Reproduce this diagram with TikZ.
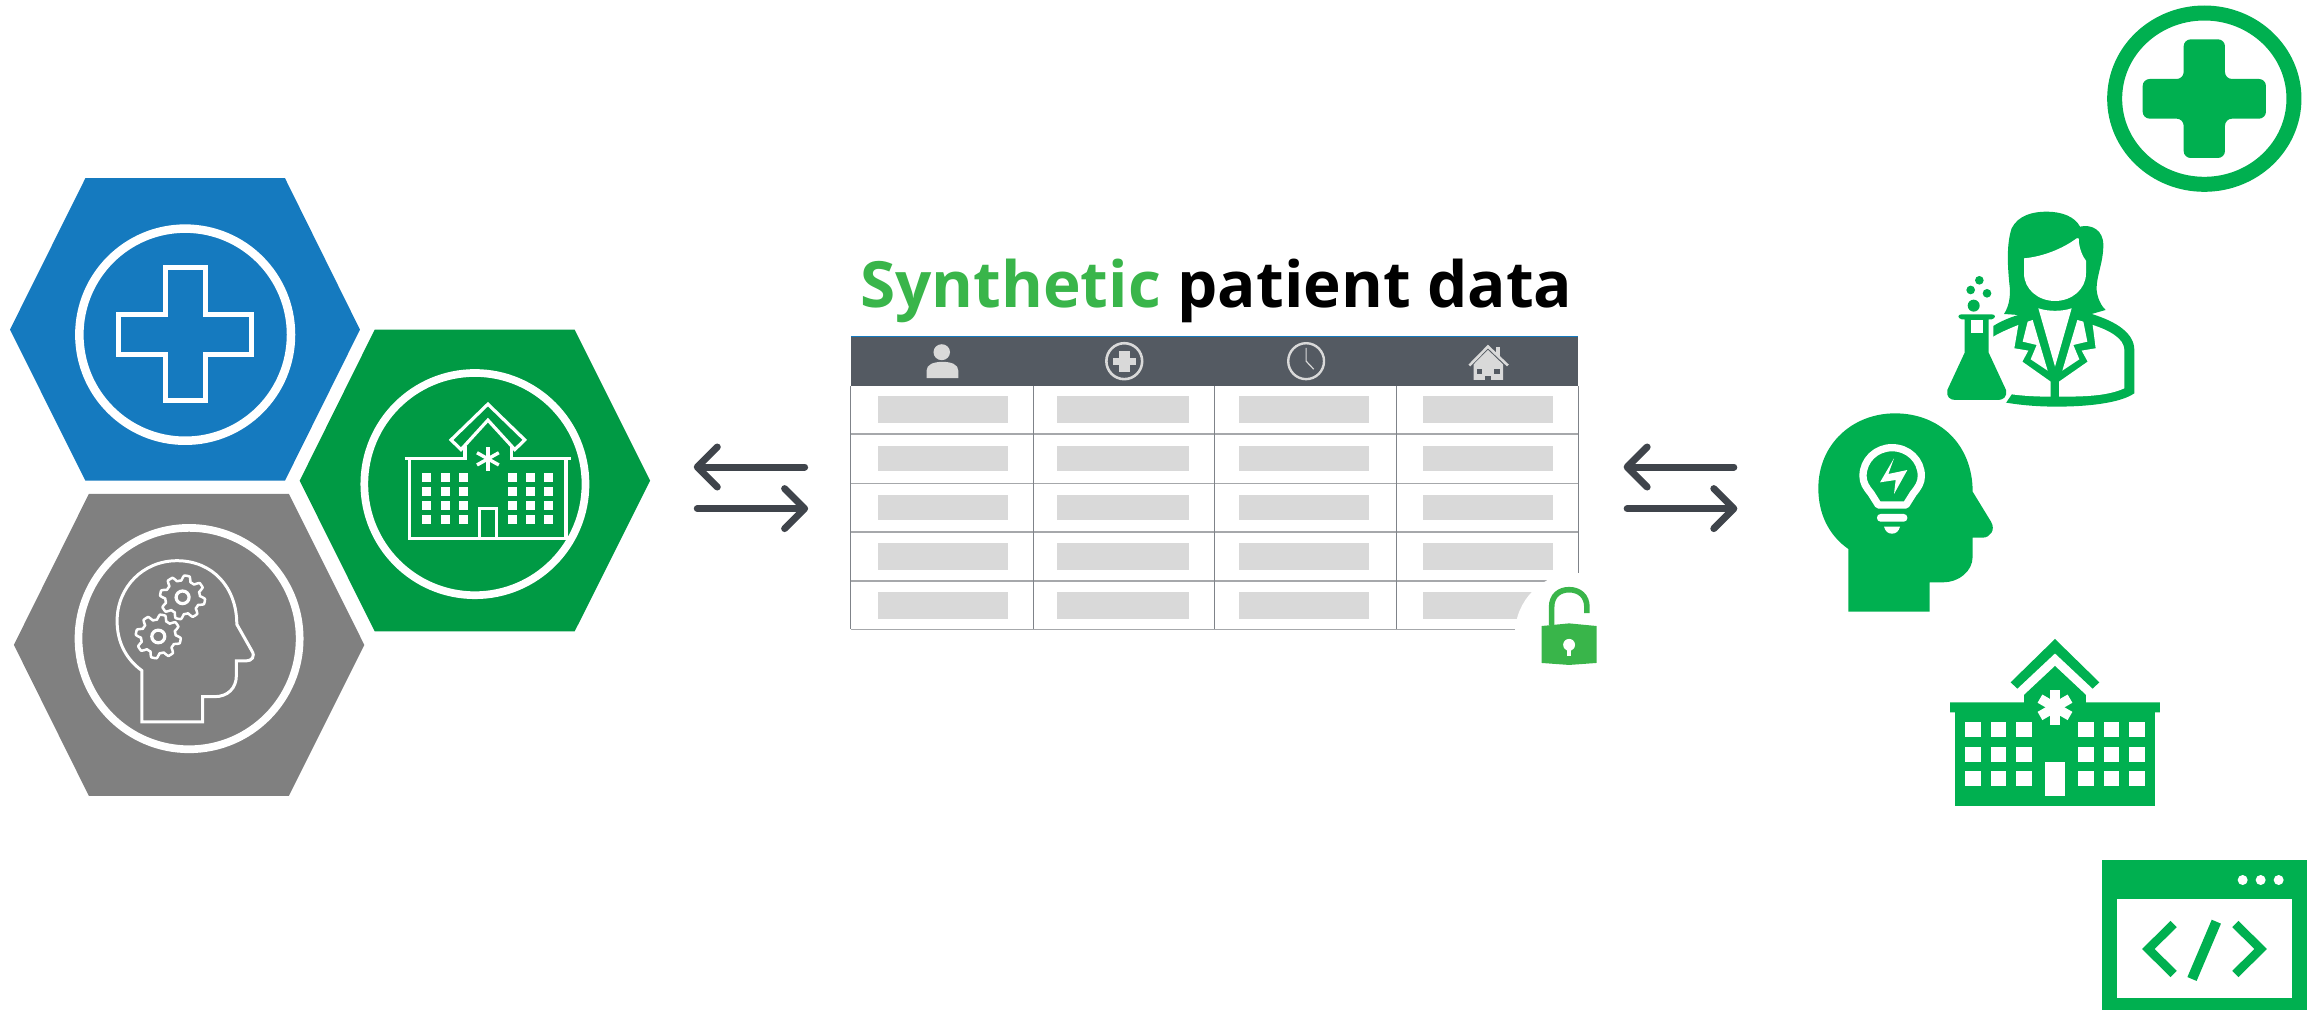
\documentclass[tikz,border=0pt]{standalone}
\usepackage{fontspec}
\setmainfont{Open Sans}
\usetikzlibrary{arrows.meta}
\definecolor{hexblue}{HTML}{157ABF}
\definecolor{hexgreen}{HTML}{009A44}
\definecolor{hexgray}{HTML}{808080}
\definecolor{iconGreen}{HTML}{00B050}
\definecolor{titleGreen}{HTML}{39B54A}
\definecolor{headDark}{HTML}{545A62}
\definecolor{cellGray}{HTML}{D9D9D9}
\definecolor{rowLine}{HTML}{A6A8AB}
\definecolor{colLine}{HTML}{7F8389}
\definecolor{arrowDark}{HTML}{3F444B}
\tikzset{
  leftzone/.style={x=.4337pt,y=-.4209pt,shift={(0pt,-160pt)}},
  tablezone/.style={x=.6888pt,y=-.3328pt,shift={(680pt,-240.7pt)}},
  lockzone/.style={x=.33pt,y=-.33pt,shift={(1480pt,-560pt)}},
  sciencezone/.style={x=.3333pt,y=-.3333pt,shift={(1900pt,0pt)}},
  headzone/.style={x=.3333pt,y=-.3333pt,shift={(1780pt,-400pt)}},
  codezone/.style={x=.3333pt,y=-.3333pt,shift={(2080pt,-840pt)}},
  wline/.style={draw=white,line width=#1,fill=none},
  wline/.default=3.5pt,
  flow/.style={draw=arrowDark,line width=7pt,line cap=round,shorten <=3.5pt,
    -{Straight Barb[round,length=20pt,width=40pt,line width=7pt]}},
}
\begin{document}
\begin{tikzpicture}[x=1pt,y=-1pt]
\useasboundingbox (0,0) rectangle (2315,1010);
% ---------- hexagons
\begin{scope}[leftzone]
\fill[hexblue] (23,403)--(197,43)--(657,43)--(830,403)--(657,762)--(197,762)--cycle;
\fill[hexgreen] (691,762)--(864,403)--(1325,403)--(1499,762)--(1325,1120)--(864,1120)--cycle;
\fill[hexgray] (32,1152)--(205,793)--(666,793)--(840,1152)--(666,1511)--(205,1511)--cycle;
\draw[wline=8.5pt] (427,415) circle [x radius=244,y radius=252];
\draw[wline=7.7pt] (1095,770) circle [x radius=255,y radius=264];
\draw[wline=7.7pt] (436,1137) circle [x radius=255,y radius=263];
% cross
\draw[wline=5pt,miter limit=4] (381,256)--(474,256)--(474,366)--(580,366)--(580,462)--(474,462)--(474,572)--(381,572)--(381,462)--(274,462)--(274,366)--(381,366)--cycle;
% hospital outline
\draw[wline=3.2pt] (1040,665)--(1125,580)--(1210,665)--(1187,688)--(1125,618)--(1063,688)--cycle;
\draw[wline=3.2pt] (933,710)--(1072,710)--(1072,680);
\draw[wline=3.2pt] (1180,680)--(1180,710)--(1317,710);
\draw[wline=3.2pt] (945,710)--(945,900)--(1305,900)--(1305,710);
\draw[wline=3.2pt] (1105,900)--(1105,828)--(1145,828)--(1145,900);
\foreach \wx in {973,1017,1058,1171,1213,1254}
  \foreach \wy in {744,777,810,843}
    \fill[white] (\wx,\wy) rectangle ++(21,21);
\foreach \ang in {90,30,-30}
  \draw[wline=3.4pt] (1125,710) ++(\ang:29) -- ++(\ang+180:58);
% head outline
\draw[wline=3pt] (327,1335)--(327,1213) .. controls (290,1185) and (270,1145) .. (270,1095)
  .. controls (270,1015) and (330,952) .. (408,952)
  .. controls (490,952) and (546,1015) .. (546,1103)
  -- (580,1165) .. controls (590,1180) and (580,1190) .. (568,1190)
  -- (545,1190) -- (545,1225) .. controls (545,1255) and (525,1275) .. (495,1275)
  -- (467,1275) -- (467,1335) -- cycle;
\foreach \gx/\gy in {421/1039,365/1132}{
  \draw[wline=2.5pt,line join=round,shift={(\gx,\gy)}] plot[domain=0:360,samples=289] (\x:{46+6*max(-1,min(1,1.8*sin(8*\x)))}) -- cycle;
  \draw[wline=3.2pt] (\gx,\gy) circle [radius=15];
}
\end{scope}
% ---------- flow arrows
\begin{scope}[tablezone]
\coordinate (laS) at (186,680); \coordinate (laE) at (20,680);
\coordinate (lbS) at (20,805);  \coordinate (lbE) at (186,805);
\coordinate (raS) at (1535,680); \coordinate (raE) at (1370,680);
\coordinate (rbS) at (1370,805); \coordinate (rbE) at (1535,805);
\end{scope}
\draw[flow] (laS) -- (laE);
\draw[flow] (lbS) -- (lbE);
\draw[flow] (raS) -- (raE);
\draw[flow] (rbS) -- (rbE);
% ---------- table
\begin{scope}[tablezone]
\foreach \cA/\cB in {287/476,548/739,811/1000,1079/1267}
  \foreach \rA/\rB in {466/547,616/693,763/840,909/990,1056/1137}
    \fill[cellGray] (\cA,\rA) rectangle (\cB,\rB);
\foreach \ly in {581,729,876,1022,1168}
  \draw[rowLine,line width=1.6pt] (248,\ly) -- (1304,\ly);
\foreach \lx in {248,513,776,1040,1304}
  \draw[colLine,line width=1pt] (\lx,437) -- (\lx,1168);
\fill[headDark] (248,288) rectangle (1304,437);
\draw[hexblue,line width=.8pt] (248,288) -- (1304,288);
% person
\fill[cellGray] (380,335) circle [x radius=12,y radius=24];
\fill[cellGray] (358,413) -- (358,390) .. controls (358,372) and (368,364) .. (381,364) .. controls (394,364) and (404,372) .. (404,390) -- (404,413) -- cycle;
% medical ring
\draw[cellGray,line width=2.6pt] (645,362) circle [x radius=26,y radius=54];
\fill[cellGray] (637,330) rectangle (653,394);
\fill[cellGray] (628,352) rectangle (662,372);
% clock
\draw[cellGray,line width=2.4pt] (909,362) circle [x radius=26,y radius=54];
\draw[cellGray,line width=1.2pt] (909,322) -- (909,362) -- (920,386);
% house
\draw[cellGray,line width=2.6pt] (1146,375) -- (1173,318) -- (1202,375);
\fill[cellGray] (1185,318) rectangle (1191,345);
\fill[cellGray] (1152,372) -- (1173,328) -- (1195,372) -- (1195,418) -- (1152,418) -- cycle;
\fill[headDark] (1157,385) rectangle (1165,402);
\fill[headDark] (1182,385) rectangle (1190,402);
\fill[headDark] (1169,408) rectangle (1178,420);
\end{scope}
% ---------- lock
\fill[white] (1576,634) circle [radius=61];
\begin{scope}[lockzone]
\draw[titleGreen,line width=5.6pt] (217,198) -- (217,143) .. controls (217,108) and (240,90) .. (270,90) .. controls (300,90) and (324,108) .. (324,143) -- (324,161);
\fill[titleGreen] (187,200) -- (270,192) -- (353,200) -- (353,312) -- (270,318) -- (187,312) -- cycle;
\fill[white] (270,257) circle [radius=18];
\fill[white] (264,262) rectangle (276,290);
\end{scope}
% ---------- title
\node[anchor=base west,inner sep=0pt,font=\fontsize{63.8pt}{64pt}\selectfont\bfseries] (title) at (860,307)
  {\textcolor{titleGreen}{Synthetic} patient data};
% ---------- plus + scientist
\begin{scope}[sciencezone]
\draw[iconGreen,line width=15pt] (913,296) circle [x radius=269,y radius=257];
\fill[iconGreen,rounded corners=7pt] (851,118) -- (975,118) -- (975,237) -- (1098,237) -- (1098,356) -- (975,356) -- (975,474) -- (851,474) -- (851,356) -- (728,356) -- (728,237) -- (851,237) -- cycle;
% silhouette
\fill[iconGreen] (312,942) .. controls (330,915) and (332,880) .. (328,850) .. controls (322,790) and (320,730) .. (335,685)
  .. controls (355,645) and (400,635) .. (440,635) .. controls (485,635) and (525,650) .. (540,680)
  .. controls (575,672) and (610,690) .. (610,735) .. controls (610,790) and (588,830) .. (590,870)
  .. controls (592,895) and (605,920) .. (617,930) -- (575,942)
  .. controls (650,965) and (703,1000) .. (703,1050) -- (703,1180)
  .. controls (660,1210) and (560,1220) .. (470,1220) .. controls (410,1220) and (360,1215) .. (318,1208)
  -- (280,1010) -- (280,978) .. controls (300,965) and (330,952) .. (355,945) -- cycle;
% face
\fill[white] (372,775) .. controls (430,770) and (490,745) .. (530,715) .. controls (540,712) and (535,720) .. (537,730)
  .. controls (540,750) and (548,770) .. (558,782) -- (558,820)
  .. controls (558,868) and (515,903) .. (465,903) .. controls (415,903) and (372,868) .. (372,820) -- cycle;
% shirt and lapels
\fill[white] (415,925) .. controls (445,935) and (485,935) .. (515,925) -- (465,1100) -- cycle;
\fill[white] (398,960) -- (443,1112) -- (392,1078) -- (410,1035) -- (368,1025) -- (383,965) -- cycle;
\fill[white] (532,960) -- (487,1112) -- (538,1078) -- (520,1035) -- (562,1025) -- (550,965) -- cycle;
% coat panels
\fill[white] (280,1010) .. controls (300,998) and (330,985) .. (355,975) -- (343,1045) -- (385,1052) -- (367,1085) -- (452,1145) -- (452,1190)
  .. controls (410,1190) and (370,1188) .. (335,1183) -- (318,1208) -- (270,1208) -- (270,1010) -- cycle;
\fill[white] (578,975) .. controls (625,990) and (673,1015) .. (673,1050) -- (673,1165)
  .. controls (620,1190) and (540,1190) .. (477,1190) -- (477,1145) -- (563,1085) -- (545,1052) -- (587,1045) -- cycle;
% flask
\fill[iconGreen] (142,1170) -- (194,1058) -- (194,958) -- (185,958) .. controls (172,955) and (172,943) .. (185,943) -- (275,943) .. controls (288,943) and (288,955) .. (275,958) -- (266,958) -- (266,1058) -- (318,1170) .. controls (322,1190) and (310,1200) .. (295,1200) -- (165,1200) .. controls (150,1200) and (138,1190) .. (142,1170) -- cycle;
\fill[white] (212,960) rectangle (250,998);
\foreach \bx/\by/\br in {238/841/13,212/870/13,261/880/13,221/917/18}
  \fill[iconGreen] (\bx,\by) circle [radius=\br];
\end{scope}
% ---------- head and hospital
\begin{scope}[headzone]
\fill[iconGreen] (205,635) -- (205,447) .. controls (145,405) and (115,340) .. (115,265)
  .. controls (115,130) and (220,40) .. (345,40) .. controls (480,40) and (578,135) .. (578,275)
  -- (633,365) .. controls (648,390) and (630,413) .. (608,413) -- (578,413) -- (578,470)
  .. controls (578,515) and (535,547) .. (490,547) -- (449,547) -- (449,635) -- cycle;
\draw[white,line width=7.3pt,line join=round] (295,315) -- (378,315) -- (400,280) .. controls (415,262) and (424,248) .. (424,228)
  .. controls (424,180) and (385,143) .. (336,143) .. controls (288,143) and (249,180) .. (249,228)
  .. controls (249,248) and (258,262) .. (273,280) -- cycle;
\fill[white,rounded corners=3.5pt] (291,342) rectangle (382,365);
\fill[white] (312,380) -- (360,380) .. controls (356,395) and (347,401) .. (336,401) .. controls (325,401) and (316,395) .. (312,380) -- cycle;
\fill[white] (342,175) -- (325,222) -- (382,210) -- (342,282) -- (347,240) -- (300,247) -- cycle;
% hospital
\fill[iconGreen] (825,717) -- (958,847) -- (938,866) -- (825,760) -- (712,866) -- (692,847) -- cycle;
\fill[iconGreen] (825,798) -- (918,885) -- (918,907) -- (1140,907) -- (1140,937) -- (1125,937) -- (1125,1218) -- (525,1218) -- (525,937) -- (510,937) -- (510,907) -- (732,907) -- (732,885) -- cycle;
\foreach \wx in {555,632,709,894,971,1048}
  \foreach \wy in {966,1041,1114}
    \fill[white] (\wx,\wy) rectangle ++(47,45);
\fill[white] (794,1085) rectangle (856,1188);
\foreach \ang in {90,30,-30}
  \draw[white,line width=9.5pt] (825,922) ++(\ang:52) -- ++(\ang+180:104);
\end{scope}
% ---------- code window
\begin{scope}[codezone]
\fill[iconGreen] (65,60) rectangle (680,510);
\fill[white] (111,178) rectangle (635,475);
\foreach \dx in {488,542,596}
  \fill[white] (\dx,120) circle [radius=15];
\draw[iconGreen,line width=8.8pt] (281,252) -- (205,327) -- (281,402);
\draw[iconGreen,line width=8.8pt] (466,252) -- (542,327) -- (466,402);
\draw[iconGreen,line width=10pt] (409,245) -- (336,417);
\end{scope}
\end{tikzpicture}
\end{document}
